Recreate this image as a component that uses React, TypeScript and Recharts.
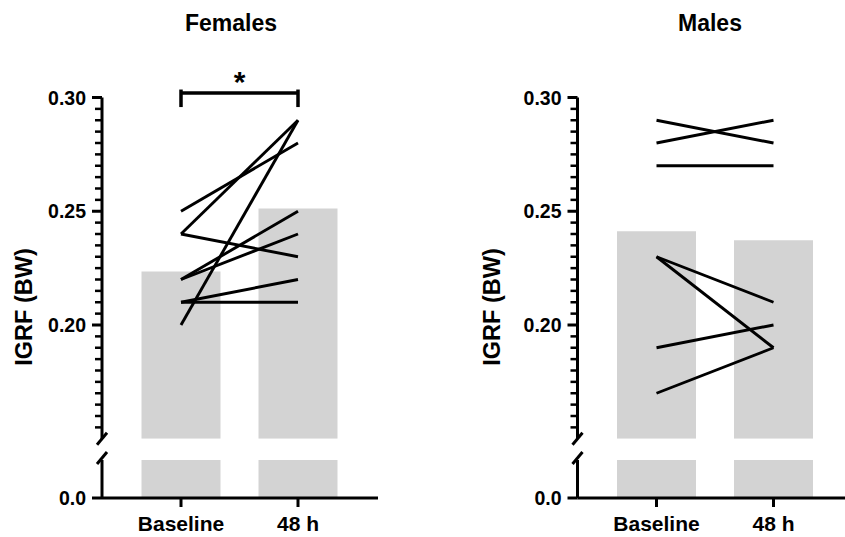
import React from 'react';
import { ComposedChart, Bar, Line, XAxis, YAxis, ReferenceLine } from 'recharts';

const categories = ['Baseline', '48 h'];

// one value per animal, paired baseline -> 48 h
const femaleBaseline = [0.25, 0.24, 0.24, 0.2, 0.22, 0.22, 0.21, 0.21];
const female48h = [0.28, 0.29, 0.23, 0.29, 0.25, 0.24, 0.22, 0.21];
const femaleMeans = [0.2235, 0.2512];

const maleBaseline = [0.29, 0.28, 0.27, 0.23, 0.23, 0.19, 0.17];
const male48h = [0.28, 0.29, 0.27, 0.21, 0.19, 0.2, 0.19];
const maleMeans = [0.2412, 0.2373];

const upperTicks = [
  0.15, 0.155, 0.16, 0.165, 0.17, 0.175, 0.18, 0.185, 0.19, 0.195, 0.2, 0.205, 0.21, 0.215, 0.22,
  0.225, 0.23, 0.235, 0.24, 0.245, 0.25, 0.255, 0.26, 0.265, 0.27, 0.275, 0.28, 0.285, 0.29, 0.295, 0.3,
];
const majorTicks = [0.2, 0.25, 0.3];
const lowerTicks = [0, 0.05];

const ink = '#000';
const barGray = '#d3d3d3';
const font = '"Liberation Sans", Arial, sans-serif';

const isMajor = (v: number) => majorTicks.some(m => Math.abs(m - v) < 1e-6);

// y ticks: long tick + label for majors, short minor ticks, "/" at the break
const UpperTick = (props: any) => {
  const { x, y, payload } = props;
  const v = payload.value;
  if (Math.abs(v - 0.15) < 1e-6) {
    return <line x1={x - 5} y1={y + 6} x2={x + 5} y2={y - 6} stroke={ink} strokeWidth={3} />;
  }
  if (isMajor(v)) {
    return (
      <g>
        <line x1={x - 10} y1={y} x2={x} y2={y} stroke={ink} strokeWidth={3} />
        <text x={x - 16} y={y} dy="0.36em" textAnchor="end" fontSize={19.5} fontWeight={700} fill={ink}>
          {v.toFixed(2)}
        </text>
      </g>
    );
  }
  return (
    <g>
      <line x1={x - 7} y1={y} x2={x} y2={y} stroke={ink} strokeWidth={2.5} />
    </g>
  );
};

const LowerTick = (props: any) => {
  const { x, y, payload } = props;
  if (payload.value === 0) {
    return (
      <g>
        <line x1={x - 10} y1={y} x2={x} y2={y} stroke={ink} strokeWidth={3} />
        <text x={x - 16} y={y} dy="0.36em" textAnchor="end" fontSize={19.5} fontWeight={700} fill={ink}>
          0.0
        </text>
      </g>
    );
  }
  return <line x1={x - 5} y1={y + 4} x2={x + 5} y2={y - 8} stroke={ink} strokeWidth={3} />;
};

interface PanelProps {
  title: string;
  baseline: number[];
  after: number[];
  means: number[];
  left: number;
  width: number;
  axisX: number;
  plotRight: number;
  padRight: number;
  titleX: number;
  labelX: number;
  bracket?: boolean;
}

const Panel: React.FC<PanelProps> = ({
  title, baseline, after, means, left, width, axisX, plotRight, padRight, titleX, labelX, bracket,
}) => {
  const data = categories.map((cat, i) => {
    const row: any = { cat, mean: means[i] };
    baseline.forEach((b, k) => {
      row[`s${k}`] = i === 0 ? b : after[k];
    });
    return row;
  });
  const yWidth = axisX - left;
  const marginRight = left + width - plotRight;

  return (
    <>
      <div
        style={{
          position: 'absolute', left: titleX, top: 10, transform: 'translateX(-50%)',
          fontSize: 23, fontWeight: 700, whiteSpace: 'nowrap',
        }}
      >
        {title}
      </div>
      <div
        style={{
          position: 'absolute', left: labelX, top: 307, transform: 'translate(-50%, -50%) rotate(-90deg)',
          fontSize: 23.5, fontWeight: 700, whiteSpace: 'nowrap',
        }}
      >
        IGRF (BW)
      </div>

      {/* upper segment 0.15 - 0.30 */}
      <div style={{ position: 'absolute', left, top: 0 }}>
        <ComposedChart width={width} height={450} data={data} margin={{ top: 97.5, right: marginRight, bottom: 11.25, left: 0 }}>
          <XAxis dataKey="cat" hide padding={{ left: 20.5, right: padRight }} />
          <YAxis
            domain={[0.15, 0.3]}
            allowDataOverflow
            ticks={upperTicks}
            interval={0}
            width={yWidth}
            tickSize={0}
            tickMargin={0}
            tickLine={false}
            axisLine={{ stroke: ink, strokeWidth: 3 }}
            tick={<UpperTick />}
          />
          <Bar dataKey="mean" fill={barGray} barSize={79} isAnimationActive={false} />
          {baseline.map((_, k) => (
            <Line
              key={k}
              dataKey={`s${k}`}
              stroke={ink}
              strokeWidth={2.9}
              dot={false}
              activeDot={false}
              isAnimationActive={false}
            />
          ))}
          {bracket && (
            <ReferenceLine
              segment={[{ x: categories[0], y: 0.302 }, { x: categories[1], y: 0.302 }]}
              ifOverflow="visible"
              stroke={ink}
              strokeWidth={3.5}
              label={{ value: '*', position: 'top', offset: 1, fontSize: 30, fontWeight: 700, fill: ink }}
            />
          )}
          {bracket && (
            <ReferenceLine
              segment={[{ x: categories[0], y: 0.3035 }, { x: categories[0], y: 0.2958 }]}
              ifOverflow="visible"
              stroke={ink}
              strokeWidth={3.5}
            />
          )}
          {bracket && (
            <ReferenceLine
              segment={[{ x: categories[1], y: 0.3035 }, { x: categories[1], y: 0.2958 }]}
              ifOverflow="visible"
              stroke={ink}
              strokeWidth={3.5}
            />
          )}
        </ComposedChart>
      </div>

      {/* lower segment starting at 0 */}
      <div style={{ position: 'absolute', left, top: 440 }}>
        <ComposedChart width={width} height={97} data={data} margin={{ top: 20, right: marginRight, bottom: 0, left: 0 }}>
          <XAxis
            dataKey="cat"
            padding={{ left: 20.5, right: padRight }}
            height={39}
            interval={0}
            axisLine={{ stroke: ink, strokeWidth: 3 }}
            tickLine={{ stroke: ink, strokeWidth: 3 }}
            tickSize={9}
            tickMargin={9}
            tick={{ fill: ink, fontSize: 21, fontWeight: 700 }}
          />
          <YAxis
            domain={[0, 0.05]}
            allowDataOverflow
            ticks={lowerTicks}
            interval={0}
            width={yWidth}
            tickSize={0}
            tickMargin={0}
            tickLine={false}
            axisLine={{ stroke: ink, strokeWidth: 3 }}
            tick={<LowerTick />}
          />
          <Bar dataKey="mean" fill={barGray} barSize={79} isAnimationActive={false} />
        </ComposedChart>
      </div>
    </>
  );
};

export default function App() {
  return (
    <div
      style={{
        position: 'absolute', left: 0, top: 0, width: 845, height: 537,
        background: '#fff', fontFamily: font, color: ink, overflow: 'hidden',
      }}
    >
      <Panel
        title="Females"
        baseline={femaleBaseline}
        after={female48h}
        means={femaleMeans}
        left={0}
        width={420}
        axisX={102}
        plotRight={378}
        padRight={21.5}
        titleX={231}
        labelX={24}
        bracket
      />
      <Panel
        title="Males"
        baseline={maleBaseline}
        after={male48h}
        means={maleMeans}
        left={430}
        width={415}
        axisX={577.5}
        plotRight={845}
        padRight={13}
        titleX={710}
        labelX={492}
      />
    </div>
  );
}
